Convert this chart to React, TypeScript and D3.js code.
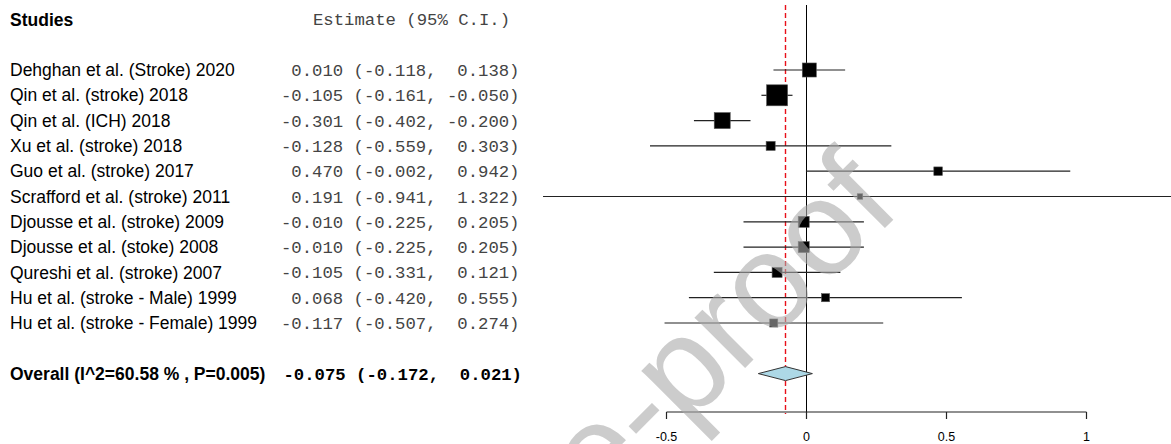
import React from "react";
import * as d3 from "d3";

const studies = [
  "Dehghan et al. (Stroke) 2020",
  "Qin et al. (stroke) 2018",
  "Qin et al. (ICH) 2018",
  "Xu et al. (stroke) 2018",
  "Guo et al. (stroke) 2017",
  "Scrafford et al. (stroke) 2011",
  "Djousse et al. (stroke) 2009",
  "Djousse et al. (stoke) 2008",
  "Qureshi et al. (stroke) 2007",
  "Hu et al. (stroke - Male) 1999",
  "Hu et al. (stroke - Female) 1999",
];
const estimates = [0.010, -0.105, -0.301, -0.128, 0.470, 0.191, -0.010, -0.010, -0.105, 0.068, -0.117];
const lowers = [-0.118, -0.161, -0.402, -0.559, -0.002, -0.941, -0.225, -0.225, -0.331, -0.420, -0.507];
const uppers = [0.138, -0.050, -0.200, 0.303, 0.942, 1.322, 0.205, 0.205, 0.121, 0.555, 0.274];
const weights = [11.5, 17.2, 13.1, 7.4, 7.0, 4.5, 9.0, 9.0, 8.2, 6.6, 6.6];

const overallLabel = "Overall (I^2=60.58 % , P=0.005)";
const overallEst = -0.075;
const overallLo = -0.172;
const overallHi = 0.021;

const xTicks = [-0.5, 0, 0.5, 1];

const W = 1171;
const H = 444;

const locale = d3.formatLocale({
  decimal: ".",
  thousands: ",",
  grouping: [3],
  currency: ["", ""],
  minus: "-",
});
const f3 = locale.format(".3f");
const fTick = locale.format("");
const pad = (v: number) => f3(v).padStart(6, " ");
const ciText = (e: number, l: number, u: number) => `${pad(e)} (${pad(l)}, ${pad(u)})`;

export default function App() {
  const x = d3.scaleLinear().domain([-0.5, 1]).range([666.5, 1086.5]);
  const rowIdx = d3.range(15);
  const y = d3.scalePoint<number>().domain(rowIdx).range([19.4, 373.6]);
  const studyRow = (i: number) => y(i + 2) as number;
  const overallY = y(14) as number;
  const size = d3.scaleLinear().domain([0, 17.2]).range([0, 21]);

  const axisY = 412;
  const topY = 5;
  const sans = "'Liberation Sans', Arial, sans-serif";
  const mono = "'Liberation Mono', 'Courier New', monospace";
  const diamondH = 7;

  const diamond = d3.line()([
    [x(overallLo), overallY],
    [x(overallEst), overallY - diamondH],
    [x(overallHi), overallY],
    [x(overallEst), overallY + diamondH],
  ]) + "Z";

  // watermark anchor on its baseline
  const wmX = 903;
  const wmY = 210;

  return (
    <svg
      width={W}
      height={H}
      style={{ position: "absolute", left: 0, top: 0, background: "#fff" }}
    >
      <rect x={0} y={0} width={W} height={H} fill="#fff" />
      {/* headers */}
      <text x={10} y={y(0) as number} dy="0.35em" fontFamily={sans} fontWeight="bold" fontSize={17.5} fill="#000">
        Studies
      </text>
      <text x={313} y={y(0) as number} dy="0.35em" fontFamily={mono} fontSize={17.3} fill="#444" xmlSpace="preserve" style={{ whiteSpace: "pre" }}>
        Estimate (95% C.I.)
      </text>

      {/* study labels and estimates */}
      {studies.map((s, i) => (
        <g key={s + i}>
          <text x={10} y={studyRow(i)} dy="0.35em" fontFamily={sans} fontSize={17.5} fill="#000">
            {s}
          </text>
          <text
            x={519.5}
            y={studyRow(i)}
            dy="0.35em"
            textAnchor="end"
            fontFamily={mono}
            fontSize={17.3}
            fill="#444"
            xmlSpace="preserve"
            style={{ whiteSpace: "pre" }}
          >
            {ciText(estimates[i], lowers[i], uppers[i])}
          </text>
        </g>
      ))}

      {/* overall */}
      <text x={10} y={overallY} dy="0.35em" fontFamily={sans} fontWeight="bold" fontSize={17.5} fill="#000">
        {overallLabel}
      </text>
      <text
        x={522}
        y={overallY}
        dy="0.35em"
        textAnchor="end"
        fontFamily={mono}
        fontWeight="bold"
        fontSize={17.3}
        fill="#000"
        xmlSpace="preserve"
        style={{ whiteSpace: "pre" }}
      >
        {ciText(overallEst, overallLo, overallHi)}
      </text>

      {/* reference lines */}
      <line x1={x(0)} x2={x(0)} y1={topY} y2={axisY} stroke="#000" strokeWidth={1} />
      <line
        x1={x(overallEst)}
        x2={x(overallEst)}
        y1={topY}
        y2={axisY + 2}
        stroke="#e8101a"
        strokeWidth={1.4}
        strokeDasharray="5,3"
      />

      {/* CI lines and boxes */}
      {studies.map((s, i) => {
        const cy = studyRow(i);
        const side = size(weights[i]);
        return (
          <g key={"m" + i}>
            <line x1={x(lowers[i])} x2={x(uppers[i])} y1={cy} y2={cy} stroke="#222" strokeWidth={1.2} />
            <rect
              x={x(estimates[i]) - side / 2}
              y={cy - side / 2}
              width={side}
              height={side}
              fill="#000"
              stroke="#555"
              strokeWidth={0.6}
            />
          </g>
        );
      })}

      {/* overall diamond */}
      <path d={diamond} fill="#add8e6" stroke="#333" strokeWidth={1} />

      {/* x axis */}
      <line x1={x(xTicks[0])} x2={x(xTicks[xTicks.length - 1])} y1={axisY} y2={axisY} stroke="#222" strokeWidth={1.2} />
      {xTicks.map((t) => (
        <g key={"t" + t}>
          <line x1={x(t)} x2={x(t)} y1={axisY} y2={axisY + 7} stroke="#222" strokeWidth={1.2} />
          <text x={x(t)} y={441} textAnchor="middle" fontFamily={sans} fontSize={12.5} fill="#000">
            {fTick(t)}
          </text>
        </g>
      ))}

      {/* watermark */}
      <text
        x={wmX}
        y={wmY}
        textAnchor="end"
        fontFamily={sans}
        fontSize={135}
        fill="rgb(170,170,170)"
        fillOpacity={0.6}
        transform={`rotate(-45, ${wmX}, ${wmY})`}
      >
        Journal Pre-proof
      </text>
    </svg>
  );
}
